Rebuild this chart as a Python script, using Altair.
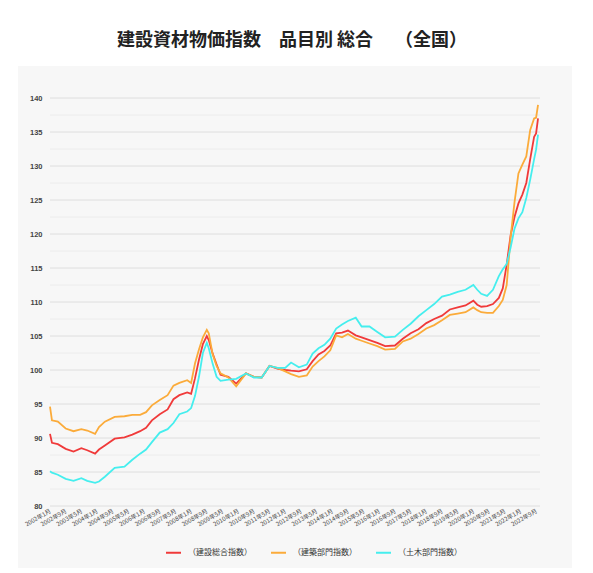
import altair as alt
import pandas as pd

months = [
    "2002-01", "2002-02", "2002-05", "2002-09", "2003-01", "2003-05", "2003-08", "2003-12",
    "2004-02", "2004-05", "2004-10", "2005-03", "2005-07", "2005-11", "2006-02", "2006-05",
    "2006-09", "2007-01", "2007-04", "2007-07", "2007-11", "2008-01", "2008-03", "2008-05",
    "2008-07", "2008-09", "2008-10", "2008-12", "2009-02", "2009-04", "2009-08", "2009-12",
    "2010-05", "2010-09", "2011-01", "2011-05", "2011-09", "2012-01", "2012-04", "2012-08",
    "2012-12", "2013-03", "2013-06", "2013-09", "2013-12", "2014-03", "2014-06", "2014-09",
    "2015-01", "2015-04", "2015-08", "2015-12", "2016-04", "2016-09", "2017-01", "2017-05",
    "2017-09", "2018-01", "2018-05", "2018-09", "2019-01", "2019-05", "2019-09", "2020-01",
    "2020-03", "2020-05", "2020-08", "2020-11", "2021-02", "2021-04", "2021-06", "2021-08",
    "2021-10", "2021-12", "2022-02", "2022-04", "2022-06", "2022-08", "2022-09", "2022-10",
]

sogo = [  # 建設総合指数
    90.6, 89.3, 89.1, 88.4, 88.0, 88.5, 88.2, 87.7,
    88.3, 88.9, 89.9, 90.1, 90.5, 91.0, 91.5, 92.6,
    93.5, 94.2, 95.7, 96.3, 96.7, 96.5, 98.8, 101.5,
    103.8, 105.0, 104.4, 102.4, 100.8, 99.3, 99.0, 98.0,
    99.5, 99.0, 98.9, 100.6, 100.2, 100.0, 99.9, 99.8,
    100.1, 101.3, 102.3, 102.8, 103.6, 105.4, 105.5, 105.8,
    105.1, 104.8, 104.4, 104.0, 103.5, 103.6, 104.6, 105.4,
    106.0, 106.9, 107.5, 108.0, 108.9, 109.2, 109.5, 110.2,
    109.6, 109.3, 109.4, 109.7, 110.6, 112.0, 115.5, 119.8,
    122.5, 124.5, 125.8, 127.5, 131.0, 134.3, 134.8, 137.0,
]

kenchiku = [  # 建築部門指数
    94.6, 92.6, 92.4, 91.4, 91.0, 91.3, 91.1, 90.6,
    91.6, 92.4, 93.1, 93.2, 93.4, 93.4, 93.8, 94.8,
    95.6, 96.3, 97.7, 98.1, 98.5, 98.1, 101.0, 103.0,
    104.8, 105.9, 105.4, 102.3, 100.6, 99.5, 98.9, 97.6,
    99.5, 99.0, 98.9, 100.6, 100.3, 99.8, 99.4, 99.0,
    99.2, 100.5, 101.3, 102.0, 102.9, 105.1, 104.8, 105.3,
    104.6, 104.3, 103.9, 103.5, 103.0, 103.1, 104.2, 104.6,
    105.3, 106.1, 106.6, 107.3, 108.1, 108.3, 108.5, 109.2,
    108.8, 108.5, 108.4, 108.4, 109.4, 110.3, 112.5, 119.5,
    124.7, 128.9, 130.2, 131.4, 135.3, 137.0, 137.1, 139.0,
]

doboku = [  # 土木部門指数
    85.1, 84.9, 84.6, 84.0, 83.7, 84.1, 83.7, 83.4,
    83.6, 84.3, 85.6, 85.8, 86.8, 87.7, 88.3, 89.4,
    90.8, 91.3, 92.2, 93.5, 93.9, 94.4, 96.2, 99.0,
    102.5, 104.0, 103.2, 100.9, 99.0, 98.4, 98.6, 98.7,
    99.5, 98.9, 98.9, 100.6, 100.3, 100.3, 101.1, 100.4,
    100.8, 102.4, 103.2, 103.7, 104.6, 106.1, 106.7, 107.2,
    107.7, 106.4, 106.4, 105.6, 104.8, 104.9, 105.9, 106.8,
    107.9, 108.8, 109.7, 110.8, 111.1, 111.5, 111.8, 112.5,
    111.8, 111.2, 110.9, 111.8, 113.8, 114.8, 115.6, 118.0,
    120.8, 122.3, 123.2, 125.3, 128.0, 131.0, 132.4, 134.6,
]

series_names = ["（建設総合指数）", "（建築部門指数）", "（土木部門指数）"]
series_colors = ["#f03a3a", "#fbab3a", "#45eeee"]

y_major = [80, 85, 90, 95, 100, 105, 110, 115, 120, 125, 130, 135, 140]
y_minor = [82.5, 87.5, 92.5, 97.5, 102.5, 107.5, 112.5, 117.5, 122.5, 127.5, 132.5, 137.5]
x_tick_months = list(range(0, 249, 8))  # 2002年1月 … 2022年9月, every 8 months

rows = []
for name, vals in zip(series_names, [sogo, kenchiku, doboku]):
    for mo, v in zip(months, vals):
        y, m = mo.split("-")
        rows.append({"series": name, "m": (int(y) - 2002) * 12 + int(m) - 1, "value": v})
df = pd.DataFrame(rows)

W, H = 490, 408
yscale = alt.Scale(domain=[80, 140], nice=False, zero=False)
xscale = alt.Scale(domain=[0, 250], nice=False, zero=False)

y_axis = alt.Axis(
    values=y_major, grid=False, ticks=False, domain=False, title=None,
    labelFontSize=7.5, labelColor="#444", labelPadding=8,
    labelFont="Liberation Sans", labelFontWeight="bold", zindex=1,
    labelOverlap=False,
)

bg = alt.Chart(alt.Data(values=[{}])).mark_rect(color="#f7f7f7").encode(
    x=alt.value(-32), x2=alt.value(W + 32), y=alt.value(-32), y2=alt.value(H + 62)
)

grid_minor = alt.Chart(pd.DataFrame({"v": y_minor})).mark_rule(
    color="#ececec", strokeWidth=1
).encode(y=alt.Y("v:Q", scale=yscale, axis=y_axis))

grid_major = alt.Chart(pd.DataFrame({"v": y_major})).mark_rule(
    color="#dedede", strokeWidth=1
).encode(y=alt.Y("v:Q", scale=yscale, axis=y_axis))

lines = alt.Chart(df).mark_line(strokeWidth=1.8).encode(
    x=alt.X(
        "m:Q",
        scale=xscale,
        axis=alt.Axis(
            values=x_tick_months, grid=False, ticks=False, domain=False, title=None,
            labelExpr="(floor(datum.value/12)+2002) + '年' + (datum.value%12+1) + '月'",
            labelAngle=-30, labelAlign="right", labelBaseline="middle",
            labelFontSize=6, labelFont="Noto Sans CJK JP", labelColor="#444",
            labelPadding=4, labelOverlap=False, zindex=1,
        ),
    ),
    y=alt.Y("value:Q", scale=yscale, axis=y_axis),
    color=alt.Color(
        "series:N",
        scale=alt.Scale(domain=series_names, range=series_colors),
        sort=series_names,
        legend=alt.Legend(
            orient="none", legendX=115, legendY=446, direction="horizontal", title=None,
            symbolType="stroke", symbolSize=225, symbolStrokeWidth=2,
            labelFontSize=8, labelFont="Noto Sans CJK JP", labelColor="#333",
            columnPadding=15, labelOffset=6,
        ),
    ),
    order=alt.Order("m:Q"),
)

chart = alt.layer(bg, grid_minor, grid_major, lines).properties(
    width=W,
    height=H,
    title=alt.TitleParams(
        "建設資材物価指数　品目別 総合　 （全国）",
        fontSize=18, font="Noto Sans CJK JP", fontWeight="bold", color="#222",
        anchor="middle", offset=16, dx=-3,
    ),
    autosize=alt.AutoSizeParams(type="none"),
    padding={"left": 42, "top": 90, "right": 45, "bottom": 70},
).configure(background="white").configure_view(stroke=None)

chart.save("out.html", embed_options={"renderer": "svg", "actions": False})
